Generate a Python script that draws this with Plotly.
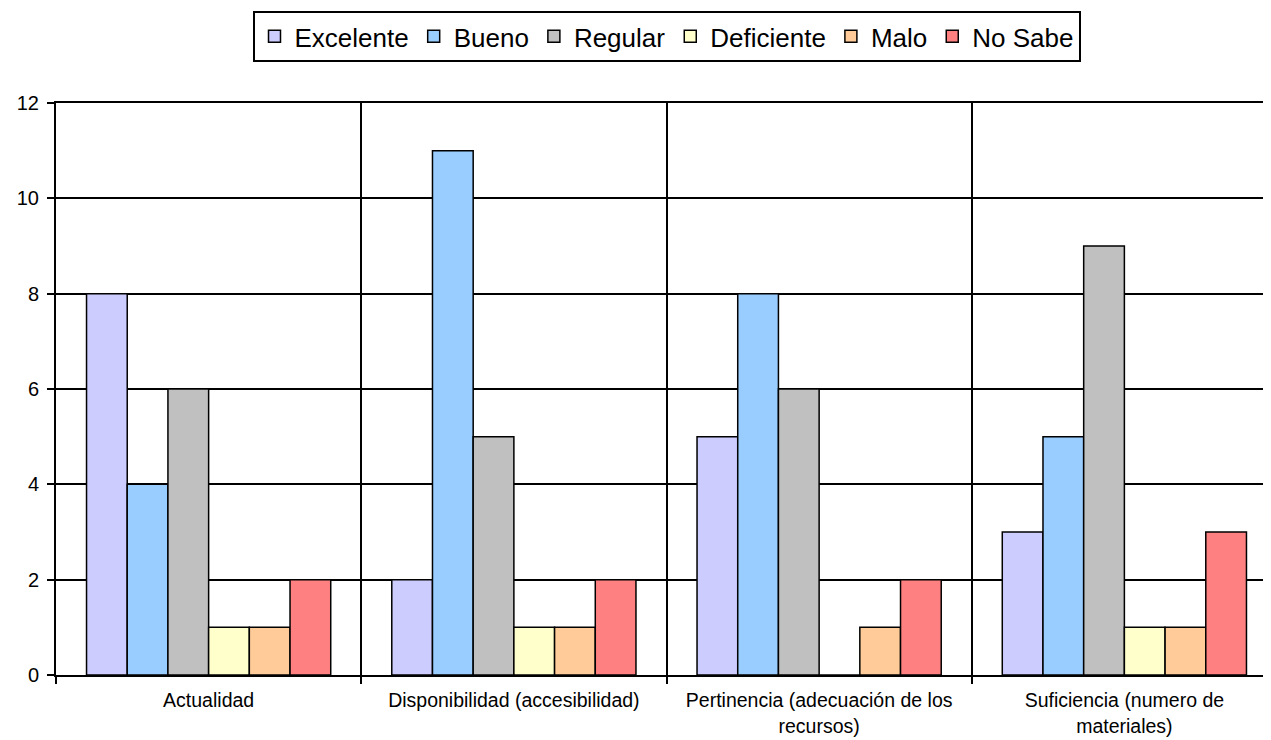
import plotly.graph_objects as go

categories = ["Actualidad", "Disponibilidad (accesibilidad)",
              "Pertinencia (adecuación de los<br>recursos)",
              "Suficiencia (numero de<br>materiales)"]
series_names = ["Excelente", "Bueno", "Regular", "Deficiente", "Malo", "No Sabe"]
excelente = [8, 2, 5, 3]
bueno = [4, 11, 8, 5]
regular = [6, 5, 6, 9]
deficiente = [1, 1, 0, 1]
malo = [1, 1, 1, 1]
no_sabe = [2, 2, 2, 3]
colors = ["#CCCCFF", "#99CCFF", "#C0C0C0", "#FFFFCC", "#FFCC99", "#FF8080"]

values = [excelente, bueno, regular, deficiente, malo, no_sabe]

fig = go.Figure()
for name, vals, col in zip(series_names, values, colors):
    fig.add_trace(go.Bar(x=categories, y=vals, name=name,
                         marker=dict(color=col, line=dict(color="black", width=1.5))))

fig.update_layout(
    width=1271, height=740,
    margin=dict(l=48, r=2, t=95, b=73),
    paper_bgcolor="white", plot_bgcolor="white",
    barmode="group", bargap=0.2, bargroupgap=0,
    font=dict(family="Liberation Sans, Arial, sans-serif", color="black"),
    legend=dict(orientation="h", x=0.5, xanchor="center",
                yref="container", y=0.996, yanchor="top",
                bordercolor="black", borderwidth=2, font=dict(size=26),
                itemwidth=30, tracegroupgap=0, itemclick=False),
    showlegend=True,
)
fig.update_xaxes(tickson="boundaries", showgrid=True, gridcolor="black", gridwidth=1.5,
                 showline=True, linecolor="black", linewidth=2, mirror=True,
                 ticks="outside", ticklen=7, tickcolor="black", tickwidth=1.5,
                 tickfont=dict(size=19.5), ticklabelstandoff=7, automargin=False)
fig.update_yaxes(range=[0, 12], dtick=2, showgrid=True, gridcolor="black", gridwidth=1.5,
                 showline=True, linecolor="black", linewidth=2, mirror=True,
                 zeroline=False,
                 ticks="outside", ticklen=7, tickcolor="black", tickwidth=1.5,
                 tickfont=dict(size=20), ticklabelstandoff=4, automargin=False)

fig.write_html("out.html")
